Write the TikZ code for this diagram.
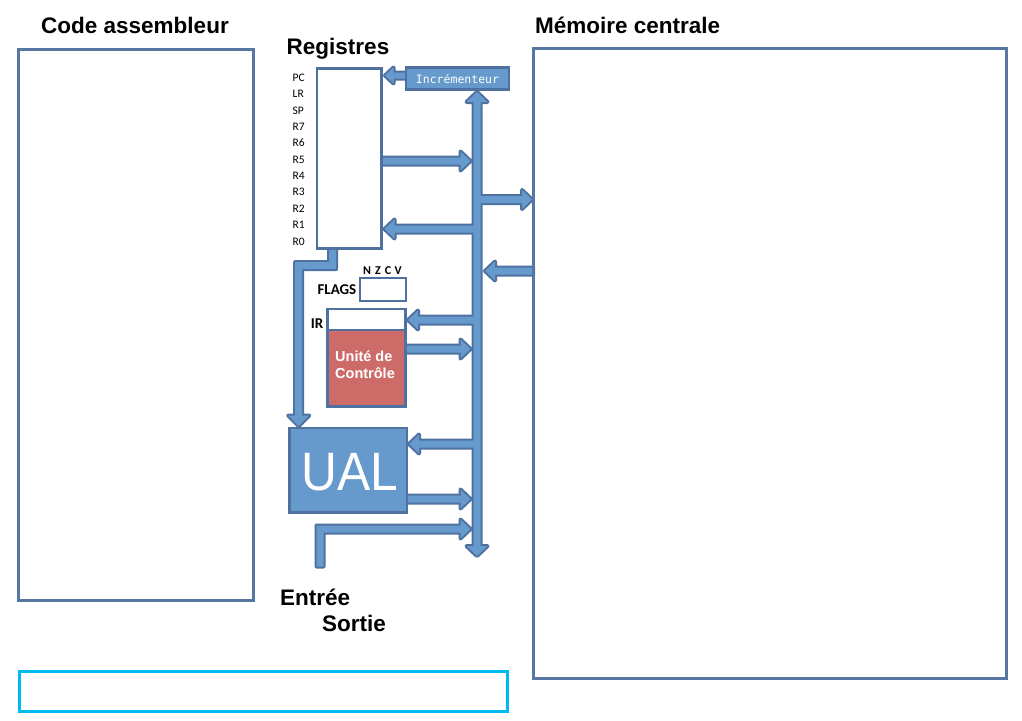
\documentclass[tikz,border=0pt]{standalone}
\usepackage{fontspec}
\setmainfont{Liberation Sans}
\newfontfamily\calfont{Carlito}
\newfontfamily\monofont{DejaVu Sans Mono}
\definecolor{bfill}{HTML}{6699CC}
\definecolor{bdark}{HTML}{4F71A0}
\definecolor{boxline}{HTML}{5777A3}
\definecolor{ctrlred}{HTML}{CD6B69}
\definecolor{cyanline}{HTML}{00B9F1}
\newcommand\rarr[3]{(#1,#3-3.5) -- (#2-10,#3-3.5) -- (#2-10,#3-9.5) -- (#2,#3) -- (#2-10,#3+9.5) -- (#2-10,#3+3.5) -- (#1,#3+3.5) -- cycle}
\newcommand\larr[3]{(#1,#3-3.5) -- (#2+10,#3-3.5) -- (#2+10,#3-9.5) -- (#2,#3) -- (#2+10,#3+9.5) -- (#2+10,#3+3.5) -- (#1,#3+3.5) -- cycle}
\newcommand\arrowset[1]{%
  \path[#1] (477,92) -- (487.5,102) -- (480.5,102) -- (480.5,546) -- (487.5,546) -- (477,556) -- (466.5,546) -- (473.5,546) -- (473.5,102) -- (466.5,102) -- cycle;
  \path[#1] (407,72.5) -- (393.5,72.5) -- (393.5,67.5) -- (385,75.5) -- (393.5,83.5) -- (393.5,78.5) -- (407,78.5) -- cycle;
  \path[#1] \rarr{383}{470.5}{161};
  \path[#1] \rarr{477}{532}{199.5};
  \path[#1] \larr{477}{384.5}{229};
  \path[#1] \larr{533}{485}{271};
  \path[#1] \larr{477}{408}{320};
  \path[#1] \rarr{406}{470.5}{349};
  \path[#1] \larr{477}{409}{444};
  \path[#1] \rarr{407}{470.5}{499};
  \path[#1] (316.5,566.5) -- (316.5,525.5) -- (460.5,525.5) -- (460.5,519.5) -- (470.5,529) -- (460.5,538.5) -- (460.5,532.5) -- (323.5,532.5) -- (323.5,566.5) -- cycle;
  \path[#1] (329.2,249) -- (336.2,249) -- (336.2,269) -- (302.2,269) -- (302.2,415.5) -- (309.2,415.5) -- (298.7,426) -- (288.2,415.5) -- (295.2,415.5) -- (295.2,262) -- (329.2,262) -- cycle;
}
\begin{document}
\begin{tikzpicture}[x=1pt,y=-1pt,
  box/.style={draw=bdark,line width=2.5pt,inner sep=0pt,rectangle},
  bigbox/.style={draw=boxline,line width=3pt,inner sep=0pt,rectangle},
  title/.style={font=\bfseries\fontsize{22.5}{27}\selectfont,inner sep=0pt,anchor=base},
  reglbl/.style={font=\calfont\fontsize{11.5}{13}\selectfont,inner sep=0pt,anchor=base west},
  callbl/.style={font=\calfont\bfseries\fontsize{15}{17}\selectfont,inner sep=0pt,anchor=base east},
  ctrltxt/.style={font=\bfseries\fontsize{14.5}{17}\selectfont,text=white,inner sep=0pt,anchor=base west}]
\useasboundingbox (0,0) rectangle (1022,720);
\fill[white] (0,0) rectangle (1022,720);

% large frames
\node[bigbox,minimum width=235pt,minimum height=551pt] (code) at (135.5,325) {};
\node[draw=cyanline,line width=3pt,inner sep=0pt,minimum width=488pt,minimum height=40pt] (out) at (263,691) {};

% titles
\node[title] (tcode) at (135,33.3) {Code assembleur};
\node[title] (treg) at (338,54) {Registres};
\node[title,anchor=base west] (tmem) at (535,33.3) {Mémoire centrale};
\node[title,anchor=base west] (tin) at (280,605) {Entrée};
\node[title,anchor=base west] (tout) at (322,631.5) {Sortie};

% block arrows (outline then fill, so they merge)
\arrowset{draw=bdark,line width=4pt,line join=round}
\arrowset{fill=bfill}

% memory frame
\node[bigbox,minimum width=473pt,minimum height=630pt] (mem) at (770,363) {};

% registers
\node[box,fill=white,minimum width=64.5pt,minimum height=180pt] (reg) at (349.25,158.5) {};
\foreach \lbl [count=\i from 0] in {PC,LR,SP,R7,R6,R5,R4,R3,R2,R1,R0}
  \node[reglbl] (r\i) at (292.5,81.5+16.35*\i) {\lbl};

% incrementer
\node[box,fill=bfill,minimum width=103pt,minimum height=22pt,text=white,font=\monofont\fontsize{11.5}{13}\selectfont] (incr) at (457.5,78.5) {Incrémenteur};

% flags
\node[box,fill=white,minimum width=46pt,minimum height=23pt] (flags) at (383,289.5) {};
\node[callbl] (tflags) at (356.5,294.4) {FLAGS};
\node[font=\calfont\bfseries\fontsize{12}{14}\selectfont,inner sep=0pt,anchor=base west] (nzcv) at (363,274.5) {N\hspace{4pt}Z\hspace{4pt}C\hspace{3.5pt}V};

% IR and control unit
\node[box,fill=white,minimum width=78pt,minimum height=21pt] (ir) at (366.5,319.5) {};
\node[callbl] (tir) at (323.5,328.5) {IR};
\node[box,fill=ctrlred,minimum width=78pt,minimum height=76.5pt] (ctrl) at (366.5,368.25) {};
\node[ctrltxt] (c1) at (335,361.5) {Unité de};
\node[ctrltxt] (c2) at (335,378) {Contrôle};

% ALU
\node[box,fill=bfill,minimum width=117.5pt,minimum height=84.5pt] (ual) at (348.25,470.25) {};
\node[font=\fontsize{54}{60}\selectfont,text=white,inner sep=0pt,anchor=base,xscale=0.92] (tual) at (350,490) {UAL};
\end{tikzpicture}
\end{document}
